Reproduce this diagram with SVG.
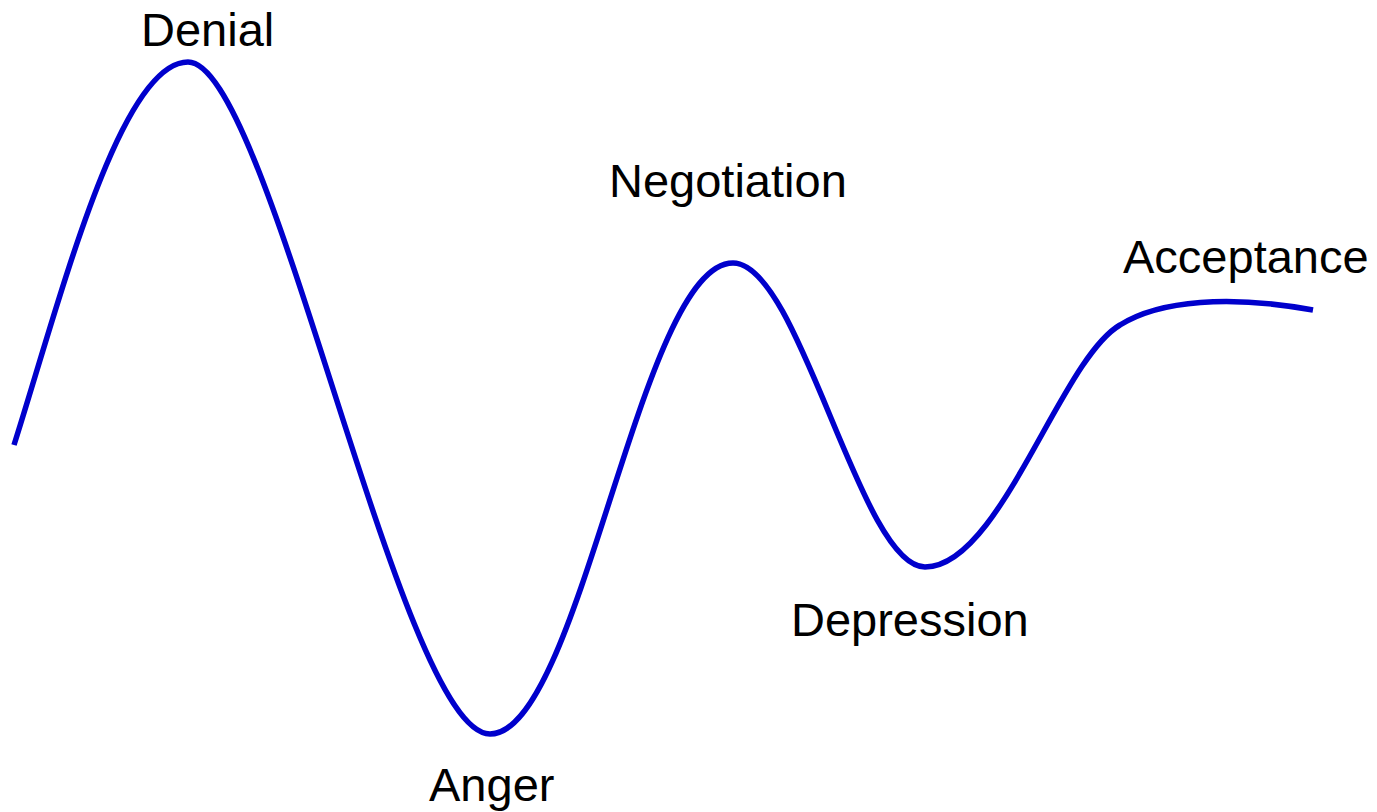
<svg xmlns="http://www.w3.org/2000/svg" width="1377" height="812" viewBox="0 0 1377 812">
<style>
.lbl{font-family:"Liberation Sans",Arial,sans-serif;font-size:47px;fill:#000}
.curve{fill:none;stroke:#0000CC;stroke-width:5.5;stroke-linecap:butt}
</style>
<rect width="1377" height="812" fill="#fff"/>
<g id="connectors">
<path class="curve" d="M14,445 C60,300 120,62 188,62 C270,62 400,734 490,734 C580,734 640,263 733,263 C800,263 860,567 925,567 C1000,567 1060,360 1120,325 C1160,300 1230,295 1313,310"/>
</g>
<g id="denial"><text class="lbl" x="141" y="46">Denial</text></g>
<g id="anger"><text class="lbl" x="429" y="801">Anger</text></g>
<g id="negotiation"><text class="lbl" x="609" y="197">Negotiation</text></g>
<g id="depression"><text class="lbl" x="791" y="636">Depression</text></g>
<g id="acceptance"><text class="lbl" x="1123" y="273">Acceptance</text></g>
</svg>
